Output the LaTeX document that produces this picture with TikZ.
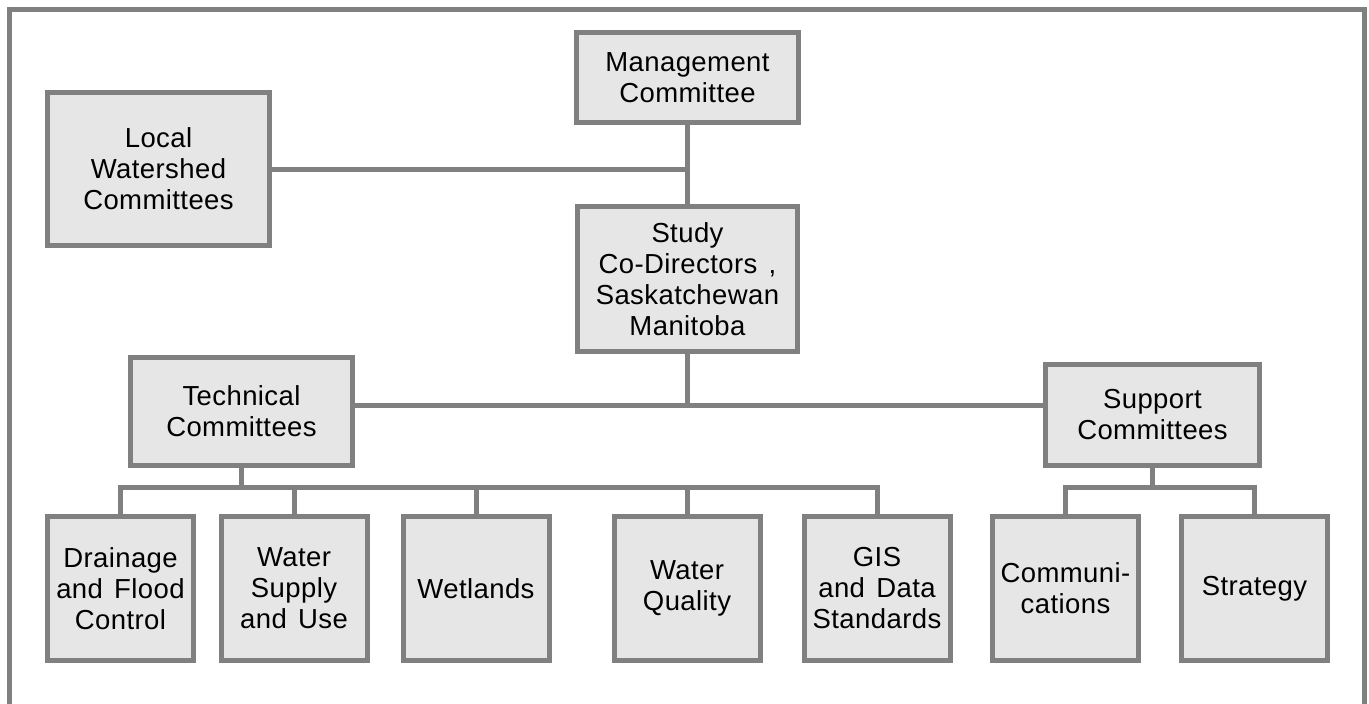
\documentclass[tikz,border=0pt]{standalone}
\usepackage{fontspec}
\setmainfont{Liberation Sans}[LetterSpace=1.5,WordSpace=1.4]
\usetikzlibrary{positioning}
\definecolor{linegray}{HTML}{808080}
\definecolor{boxgray}{HTML}{E6E6E6}

\begin{document}
\begin{tikzpicture}[x=1pt, y=-1pt,
  box/.style={draw=linegray, fill=boxgray, line width=5pt, align=center,
              inner sep=0pt, font=\fontsize{27.5}{31}\selectfont},
  unit/.style={box, minimum width=222pt},
  leaf/.style={box, minimum width=146pt, minimum height=144pt},
  conn/.style={draw=linegray, line width=5pt},
]
\useasboundingbox (0,0) rectangle (1369,704);
% open frame
\draw[conn] (9.5,704) -- (9.5,9.5) -- (1364,9.5) -- (1364,704);

\node[unit, minimum height=90pt] (mgmt) at (687.5,77.5) {Management\\Committee};
\node[unit, minimum height=153pt] (local) at (158.5,169) {Local\\Watershed\\Committees};
\node[box, minimum width=220pt, minimum height=145pt, below=79pt of mgmt] (study)
  {Study\\Co-Directors ,\\Saskatchewan\\Manitoba};
\node[unit, minimum height=108pt] (tech) at (241.5,411.5) {Technical\\Committees};
\node[box, minimum width=214pt, minimum height=101pt] (support) at (1152.5,415)
  {Support\\Committees};

% committees
\node[leaf] (drain)  at (120.5,588.5) {Drainage\\and Flood\\Control};
\node[leaf] (supply) at (294,588.5)   {Water\\Supply\\and Use};
\node[leaf] (wet)    at (476,588.5)   {Wetlands};
\node[leaf] (qual)   at (687,588.5)   {Water\\Quality};
\node[leaf] (gis)    at (877,588.5)   {GIS\\and Data\\Standards};
\node[leaf] (comm)   at (1065.5,588.5) {Communi-\\cations};
\node[leaf] (strat)  at (1254.5,588.5) {Strategy};

\coordinate (bus)  at (687.5,405);
\coordinate (tbus) at (241.5,487);
\coordinate (sbus) at (1152.5,487);

\draw[conn] (mgmt) -- (study);
\draw[conn] (local.east) -- (local.east -| mgmt.south);
\draw[conn] (study) -- (bus);
\draw[conn] (tech.east |- bus) -- (support.west |- bus);
\draw[conn] (tech) -- (tbus);
\draw[conn] (drain.north) -- (drain.north |- tbus) -- (gis.north |- tbus) -- (gis.north);
\foreach \n in {supply,wet,qual}
  \draw[conn] (\n.north) -- (\n.north |- tbus);
\draw[conn] (support) -- (sbus);
\draw[conn] (comm.north) -- (comm.north |- sbus) -- (strat.north |- sbus) -- (strat.north);
\end{tikzpicture}
\end{document}
